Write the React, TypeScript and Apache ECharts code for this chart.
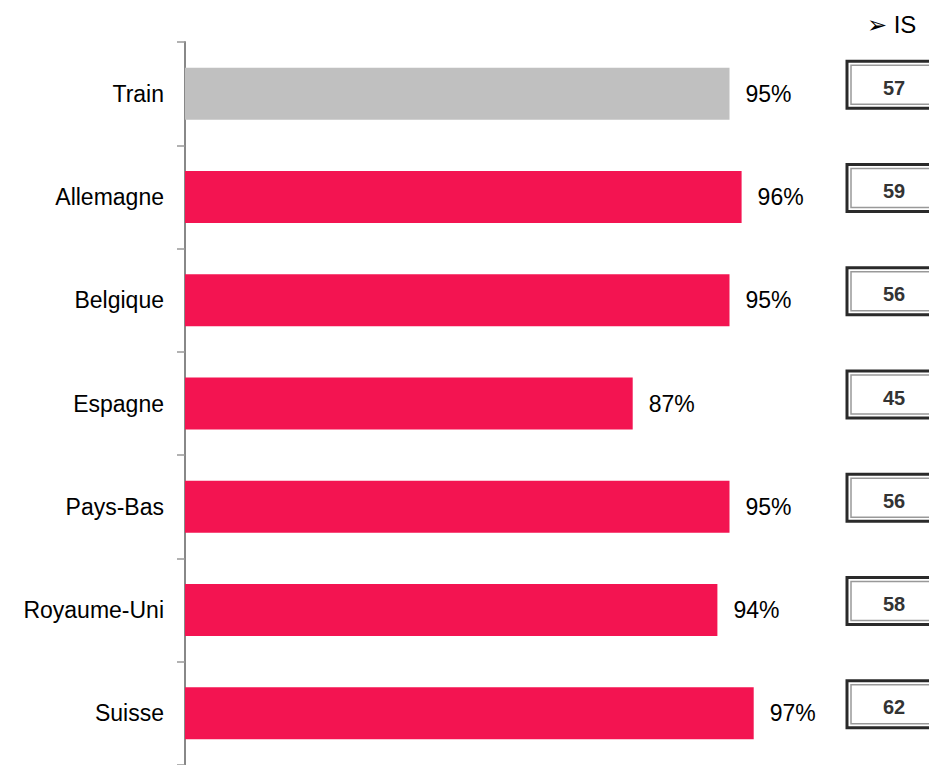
import React, { useEffect, useRef } from "react";
import * as echarts from "echarts";

const categories = ["Train", "Allemagne", "Belgique", "Espagne", "Pays-Bas", "Royaume-Uni", "Suisse"];
const values = [95, 96, 95, 87, 95, 94, 97];
const isValues = [57, 59, 56, 45, 56, 58, 62];
const barColors = ["#C0C0C0", "#F31451", "#F31451", "#F31451", "#F31451", "#F31451", "#F31451"];

export default function App() {
  const ref = useRef<HTMLDivElement>(null);
  useEffect(() => {
    const chart = echarts.init(ref.current!, null, { renderer: "svg" });
    const font = "'Liberation Sans', Arial, sans-serif";
    chart.setOption({
      animation: false,
      backgroundColor: "#fff",
      textStyle: { fontFamily: font },
      grid: { left: 185, top: 42, width: 726, height: 725 },
      xAxis: {
        type: "value",
        min: 50,
        max: 110,
        show: false,
      },
      yAxis: {
        type: "category",
        data: categories,
        inverse: true,
        axisLine: { show: true, lineStyle: { color: "#888", width: 2 } },
        axisTick: { show: true, length: 8, lineStyle: { color: "#999", width: 1.5 } },
        axisLabel: { color: "#000", fontSize: 23, margin: 21, fontFamily: font },
      },
      series: [
        {
          type: "bar",
          barWidth: 52,
          data: values.map((v, i) => ({ value: v, itemStyle: { color: barColors[i] } })),
          label: {
            show: true,
            position: "right",
            distance: 16,
            formatter: (p: any) => p.value + "%",
            color: "#000",
            fontSize: 23,
            fontFamily: font,
          },
        },
        {
          type: "custom",
          clip: false,
          data: isValues.map((v, i) => [i, v]),
          encode: { y: 0 },
          renderItem: (params: any, api: any) => {
            const idx = api.value(0);
            const pt = api.coord([50, idx]);
            const cy = pt[1] - 9;
            const x = 847;
            const h = 47;
            const w = 120;
            return {
              type: "group",
              children: [
                {
                  type: "rect",
                  shape: { x: x, y: cy - h / 2, width: w, height: h },
                  style: { fill: "#fff", stroke: "#2a2a2a", lineWidth: 3 },
                },
                {
                  type: "rect",
                  shape: { x: x + 4, y: cy - h / 2 + 4, width: w - 8, height: h - 8 },
                  style: { fill: "#fff", stroke: "#999", lineWidth: 1.5 },
                },
                {
                  type: "text",
                  style: {
                    text: String(api.value(1)),
                    x: 894,
                    y: cy + 3,
                    align: "center",
                    verticalAlign: "middle",
                    fontSize: 20,
                    fontWeight: "bold",
                    fill: "#333",
                    fontFamily: font,
                  },
                },
              ],
            };
          },
        },
      ],
      graphic: [
        {
          type: "text",
          left: 867,
          top: 12,
          style: { text: "➢ IS", fontSize: 24, fill: "#000", fontFamily: font },
        },
      ],
    });
    return () => chart.dispose();
  }, []);
  return <div ref={ref} style={{ position: "fixed", left: 0, top: 0, width: 929, height: 765 }} />;
}
